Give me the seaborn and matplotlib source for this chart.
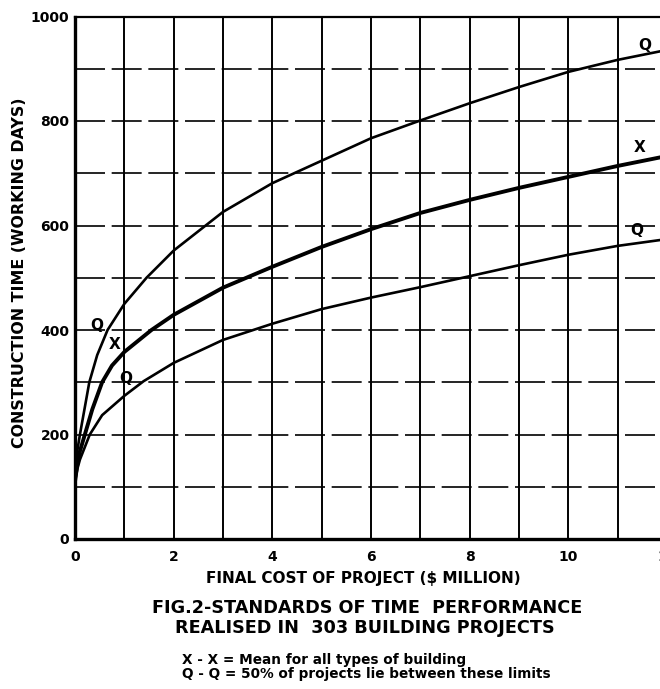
import numpy as np
import pandas as pd
import seaborn as sns
import matplotlib.pyplot as plt

# Curve readings (final cost in $ million -> construction time in working days)
upper_q_cost = [0, 0.04, 0.1, 0.29, 0.45, 0.66, 1.0, 1.45, 2, 3, 4, 5, 6, 7, 8, 9, 10, 11, 12]
upper_q_days = [110, 165, 200, 300, 352, 400, 450, 500, 552, 626, 681, 724, 767, 801, 834, 865, 894, 917, 936]

mean_cost = [0, 0.05, 0.1, 0.2, 0.35, 0.55, 0.75, 1.0, 1.55, 2, 3, 4, 5, 6, 7, 8, 9, 10, 11, 12]
mean_days = [110, 145, 168, 200, 248, 300, 332, 358, 400, 429, 481, 521, 559, 593, 624, 649, 672, 693, 714, 733]

lower_q_cost = [0, 0.05, 0.1, 0.3, 0.55, 1.0, 1.39, 2, 3, 4, 5, 6, 7, 8, 9, 10, 11, 12]
lower_q_days = [110, 135, 152, 200, 237, 274, 302, 337, 381, 412, 440, 462, 482, 503, 524, 544, 561, 574]

x_ticks = list(range(0, 13))
x_tick_labels = [str(v) if v % 2 == 0 else "" for v in x_ticks]
y_ticks = list(range(0, 1100, 100))
y_tick_labels = [str(v) if v % 200 == 0 else "" for v in y_ticks]

df = pd.concat([
    pd.DataFrame({"cost": upper_q_cost, "days": upper_q_days, "curve": "upper"}),
    pd.DataFrame({"cost": mean_cost, "days": mean_days, "curve": "mean"}),
    pd.DataFrame({"cost": lower_q_cost, "days": lower_q_days, "curve": "lower"}),
])

sns.set_theme(style="white", rc={"text.color": "black", "xtick.color": "black",
                                 "ytick.color": "black", "axes.labelcolor": "black"})
plt.rcParams["font.family"] = ["DejaVu Sans"]
plt.rcParams["font.weight"] = "bold"

W, H = 660, 689
fig = plt.figure(figsize=(W / 100, H / 100), dpi=100)
ax = fig.add_axes([75 / W, (H - 539) / H, (667 - 75) / W, 522.5 / H])

# grid: solid verticals, broken horizontals
for xv in x_ticks[1:]:
    ax.axvline(xv, color="black", lw=1.4, zorder=1)
for yv in y_ticks[1:-1]:
    ax.axhline(yv, color="black", lw=1.2, dashes=(18, 4), zorder=1)

widths = {"upper": 1.9, "mean": 2.8, "lower": 1.9}
for name, sub in df.groupby("curve", sort=False):
    sns.lineplot(data=sub, x="cost", y="days", ax=ax, color="black",
                 lw=widths[name], sort=False, estimator=None, zorder=3)

ax.set_xlim(0, 12)
ax.set_ylim(0, 1000)
ax.set_xticks(x_ticks)
ax.set_xticklabels(x_tick_labels)
ax.set_yticks(y_ticks)
ax.set_yticklabels(y_tick_labels)
ax.tick_params(axis="both", length=0, labelsize=10)
ax.tick_params(axis="x", pad=8)
ax.tick_params(axis="y", pad=4)
for lab in ax.get_xticklabels() + ax.get_yticklabels():
    lab.set_fontweight("bold")
ax.set_xlabel("")
ax.set_ylabel("")
for side in ["left", "bottom"]:
    ax.spines[side].set_linewidth(2.4)
    ax.spines[side].set_color("black")
ax.spines["top"].set_linewidth(1.6)
ax.spines["top"].set_color("black")
ax.spines["right"].set_visible(False)

# curve labels
lab_kw = dict(fontsize=11, fontweight="bold", ha="center", va="center", zorder=4)
ax.text(11.54, 945, "Q", **lab_kw)
ax.text(11.44, 750, "X", **lab_kw)
ax.text(11.38, 590, "Q", **lab_kw)
ax.text(0.45, 408, "Q", **lab_kw)
ax.text(0.81, 372, "X", **lab_kw)
ax.text(1.03, 308, "Q", **lab_kw)

fig.text(20 / W, 1 - 273 / H, "CONSTRUCTION TIME (WORKING DAYS)", rotation=90,
         ha="center", va="center", fontsize=11.4, fontweight="bold")
fig.text(363 / W, 1 - 578 / H, "FINAL COST OF PROJECT ($ MILLION)",
         ha="center", va="center", fontsize=11, fontweight="bold")
fig.text(367 / W, 1 - 608 / H, "FIG.2-STANDARDS OF TIME  PERFORMANCE",
         ha="center", va="center", fontsize=12.7, fontweight="bold")
fig.text(365 / W, 1 - 628 / H, "REALISED IN  303 BUILDING PROJECTS",
         ha="center", va="center", fontsize=12.7, fontweight="bold")
fig.text(182 / W, 1 - 660 / H, "X - X = Mean for all types of building",
         ha="left", va="center", fontsize=9.8, fontweight="bold")
fig.text(182 / W, 1 - 674 / H, "Q - Q = 50% of projects lie between these limits",
         ha="left", va="center", fontsize=9.8, fontweight="bold")

fig.savefig("out.png", dpi=100, facecolor="white")
